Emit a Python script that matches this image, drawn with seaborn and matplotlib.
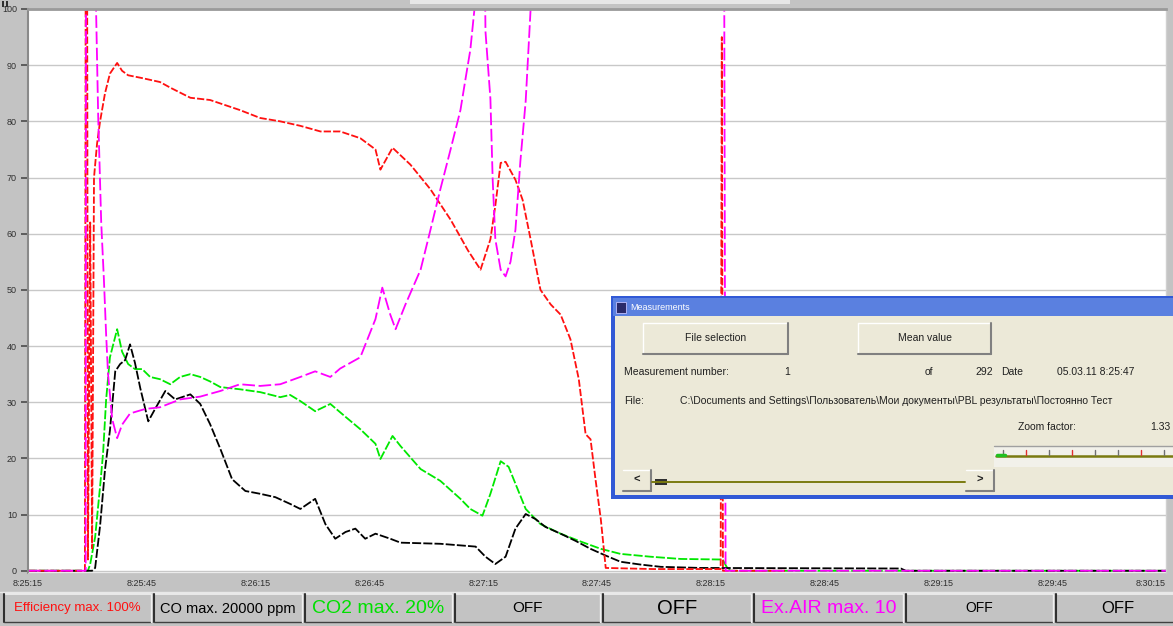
import matplotlib
matplotlib.use("Agg")
import numpy as np
import pandas as pd
import matplotlib.pyplot as plt
import seaborn as sns
from matplotlib.patches import Rectangle
from matplotlib.lines import Line2D

# ---- data: seconds from the left edge of the chart, % of channel max ----
eff_t = [0, 15.0, 15.2, 15.6, 15.8, 16.4, 16.9, 17.4, 18.2, 19.0, 20.3, 21.6, 23.5, 24.8, 26.4,
         30.1, 34.8, 37.5, 42.8, 45.4, 48.0, 55.9, 61.2, 66.5, 71.8, 77.1, 82.3, 87.6, 91.6, 92.9,
         96.1, 100.8, 106.1, 111.4, 113.5, 116.0, 119.3, 121.9, 123.2, 124.6, 125.9, 128.5, 130.4,
         132.5, 135.1, 137.8, 140.4, 143.0, 145.2, 147.0, 148.3, 149.6, 151.0, 152.3, 165.0,
         182.6, 182.9, 183.2, 200.0]
eff_v = [0, 0, 105, 105, 2, 62, 4, 70, 76, 80, 85, 88.5, 90.4, 89, 88.2,
         87.7, 87, 86, 84.2, 84, 83.8, 82, 80.6, 80, 79.2, 78.2, 78.2, 77, 75, 71.4,
         75.3, 72.3, 67.9, 62.5, 60, 57, 53.6, 59, 65, 72.6, 72.8, 69.6, 66,
         59, 50, 47.4, 45.6, 41.2, 34.1, 24.3, 23.4, 16.3, 9.2, 0.5, 0.3,
         0.3, 95, 0, 0]

co_t = [0, 16.9, 17.7, 19.0, 20.3, 21.6, 23.0, 24.3, 25.6, 26.9, 28.2, 29.6, 31.7, 33.5, 36.2,
        38.8, 42.8, 45.4, 48.0, 50.7, 53.8, 57.3, 61.2, 65.2, 69.1, 71.8, 75.7, 78.4, 81.0, 83.7,
        86.3, 88.9, 91.6, 95.5, 98.2, 108.7, 118.0, 120.6, 123.2, 125.9, 128.5, 131.2, 133.8,
        136.4, 140.4, 144.4, 148.3, 152.3, 156.2, 161.5, 166.8, 177.3, 230.1, 231.4, 300]
co_v = [0, 0, 0.5, 8, 18, 25, 35.5, 36.8, 37.5, 40.3, 37, 32.5, 26.6, 28.8, 32,
        30.5, 31.4, 29.7, 26.1, 21.7, 16.3, 14.2, 13.7, 13.1, 11.9, 11, 12.8, 8.3, 5.7, 6.9,
        7.5, 5.7, 6.6, 5.7, 5, 4.8, 4.3, 2.5, 1.2, 2.5, 7.5, 10.1, 9.2,
        7.8, 6.6, 5.3, 3.9, 2.7, 1.6, 1.1, 0.7, 0.5, 0.4, 0, 0]

co2_t = [0, 15.8, 16.4, 17.7, 19.0, 19.8, 20.6, 21.6, 23.5, 24.8, 26.4, 28.2, 30.1, 32.2, 34.8,
         37.5, 40.1, 42.8, 45.4, 48.0, 50.7, 55.9, 61.2, 66.5, 69.1, 71.8, 75.7, 79.7, 83.7, 87.6,
         91.6, 92.9, 96.1, 98.2, 103.5, 108.7, 114.0, 116.6, 119.8, 121.9, 124.6, 126.7, 128.5,
         131.2, 135.1, 140.4, 145.7, 151.0, 156.2, 164.1, 172.1, 183.1, 184.5, 185.3, 300]
co2_v = [0, 0, 1.2, 6, 15, 21, 30.5, 38, 43, 39, 36.8, 35.9, 35.9, 34.5, 34.1,
         33.2, 34.5, 35, 34.5, 33.7, 32.7, 32.3, 31.8, 30.9, 31.3, 30.2, 28.4, 29.7, 27.4, 25.2,
         22.6, 19.9, 24, 22.2, 18.1, 16, 12.8, 11, 9.8, 13.7, 19.5, 18.5, 15.5,
         11, 8.3, 6.6, 5.2, 3.9, 3, 2.5, 2.1, 2, 0.3, 0, 0]

air_t = [0, 15.2, 15.3, 17.5, 18.5, 19.3, 20.0, 20.6, 21.1, 22.2, 23.5, 24.8, 26.9, 30.9, 34.8,
         40.1, 45.4, 50.7, 55.9, 61.2, 66.5, 71.8, 75.7, 79.7, 82.3, 87.6, 91.6, 93.4, 95.5, 96.9,
         99.5, 103.5, 106.1, 108.7, 111.4, 114.0, 115.3, 116.6, 118.0, 119.3, 120.3, 120.6, 121.9,
         122.5, 123.2, 124.6, 125.9, 127.2, 128.5, 129.8, 131.2, 132.5, 133.0, 183.5, 183.9, 300]
air_v = [0, 0, 115, 115, 81, 62, 52, 42, 35, 27, 23.6, 26, 28, 28.8, 29.1,
         30.5, 31, 32, 33.2, 32.9, 33.2, 34.5, 35.5, 34.5, 36, 38, 44.8, 50.4, 45.6, 43,
         47.4, 53.6, 60.7, 67.9, 75, 82, 87.4, 92.7, 102, 115, 115, 96, 84,
         69.6, 59, 53.6, 52.4, 55, 60.7, 72.9, 83.6, 100, 115, 115, 0, 0]

series_names = ["CO2", "CO", "Efficiency", "Ex.AIR"]
x_ticks = [0, 30, 60, 90, 120, 150, 180, 210, 240, 270, 300]
x_labels = ["8:25:15", "8:25:45", "8:26:15", "8:26:45", "8:27:15", "8:27:45",
            "8:28:15", "8:28:45", "8:29:15", "8:29:45", "8:30:15"]
y_ticks = [0, 10, 20, 30, 40, 50, 60, 70, 80, 90, 100]

panel_texts = ["Efficiency max. 100%", "CO max. 20000 ppm", "CO2 max. 20%", "OFF",
               "OFF", "Ex.AIR max. 10", "OFF", "OFF"]

df = pd.concat([
    pd.DataFrame({"t": co2_t, "v": co2_v, "series": "CO2"}),
    pd.DataFrame({"t": co_t, "v": co_v, "series": "CO"}),
    pd.DataFrame({"t": eff_t, "v": eff_v, "series": "Efficiency"}),
    pd.DataFrame({"t": air_t, "v": air_v, "series": "Ex.AIR"}),
], ignore_index=True)

palette = {"CO2": "#00e800", "CO": "#000000", "Efficiency": "#ff1010", "Ex.AIR": "#ff00ff"}
dashes = {"CO2": (5, 1.2), "CO": (5, 1.2), "Efficiency": (4, 1.2), "Ex.AIR": (7, 2)}

# ---- figure ----
sns.set_theme(style="white")
plt.rcParams["font.family"] = ["Liberation Sans", "DejaVu Sans"]

W, H = 1173, 626
fig = plt.figure(figsize=(W / 100, H / 100), dpi=100)
fig.patch.set_facecolor("#c3c3c3")


def box(x0, y0, x1, y1):
    return [x0 / W, 1 - y1 / H, (x1 - x0) / W, (y1 - y0) / H]


def rect(x0, y0, x1, y1, **kw):
    kw.setdefault("zorder", 5)
    fig.add_artist(Rectangle((x0 / W, 1 - y1 / H), (x1 - x0) / W, (y1 - y0) / H,
                             transform=fig.transFigure, **kw))


def line(xs, ys, **kw):
    kw.setdefault("zorder", 6)
    fig.add_artist(Line2D([x / W for x in xs], [1 - y / H for y in ys],
                          transform=fig.transFigure, **kw))


def txt(x, y, s, **kw):
    kw.setdefault("zorder", 7)
    fig.text(x / W, 1 - y / H, s, **kw)


ax = fig.add_axes(box(28, 9, 1166, 573))
ax.set_facecolor("white")

sns.lineplot(data=df, x="t", y="v", hue="series", style="series", hue_order=series_names,
             style_order=series_names, palette=palette, dashes=dashes, estimator=None,
             sort=False, legend=False, linewidth=1.3, ax=ax)

ax.set_xlim(0, 300)
ax.set_ylim(-0.4, 100)
ax.set_xlabel("")
ax.set_ylabel("")
ax.set_xticks(x_ticks)
ax.set_xticklabels(x_labels, fontsize=6.5, color="#303030")
ax.get_xticklabels()[-1].set_ha("right")
ax.set_xticks([0, 30, 90, 150, 210, 270, 300], minor=True)
ax.set_yticks(y_ticks)
ax.set_yticklabels([str(v) for v in y_ticks], fontsize=6.5, color="#303030")
ax.tick_params(axis="x", which="major", length=0, pad=4)
ax.tick_params(axis="x", which="minor", length=5, color="#505050", bottom=True)
ax.tick_params(axis="y", length=5, color="#505050", left=True, pad=3)
ax.grid(axis="y", which="major", color="#c8c8c8", linewidth=1)
ax.grid(axis="x", which="minor", color="#c8c8c8", linewidth=1)
ax.grid(axis="x", which="major", visible=False)
ax.set_axisbelow(True)
for side, col, lw in [("left", "#8a8a8a", 1.5), ("top", "#9a9a9a", 2),
                      ("right", "#d0d0d0", 1), ("bottom", "#c8c8c8", 1)]:
    ax.spines[side].set_color(col)
    ax.spines[side].set_linewidth(lw)

# top strip and window icon
rect(410, 0, 790, 4, facecolor="#e6e6e6", edgecolor="none")
rect(2, 1, 4, 7, facecolor="#303030", edgecolor="none")
rect(6, 1, 8, 7, facecolor="#303030", edgecolor="none")

# ---- status bar ----
line([0, W], [592, 592], color="#e8e8e8", linewidth=1)
edges = [(4, 151), (154, 302), (305, 452), (455, 600), (603, 751), (754, 903), (906, 1053), (1056, 1180)]
colors = ["#ff1010", "#000000", "#00e000", "#000000", "#000000", "#ff00ff", "#000000", "#000000"]
sizes = [9.5, 10.5, 14, 11, 14.5, 14, 10, 12]
for (x0, x1), s, c, fs in zip(edges, panel_texts, colors, sizes):
    rect(x0, 594, x1, 622, facecolor="#c3c3c3", edgecolor="none")
    line([x0, x1], [594, 594], color="#f0f0f0", linewidth=1.2)
    line([x0, x0], [594, 622], color="#303030", linewidth=1.5)
    line([x0, x1], [622, 622], color="#404040", linewidth=1)
    line([x1, x1], [594, 622], color="#f0f0f0", linewidth=1)
    txt((x0 + x1) / 2, 608.5, s, color=c, fontsize=fs, ha="center", va="center")

# ---- Measurements dialog ----
rect(611, 296, 1180, 499, facecolor="#3159d6", edgecolor="none")
rect(613, 298, 1180, 316, facecolor="#5a80e0", edgecolor="none")
rect(616, 302, 626, 313, facecolor="#2a2a6a", edgecolor="#c0c0ff", linewidth=0.6)
txt(630, 308, "Measurements", color="white", fontsize=6.5, va="center")
rect(615, 316, 1180, 495, facecolor="#ece9d8", edgecolor="none")

for x0, x1, s in [(643, 788, "File selection"), (858, 991, "Mean value")]:
    rect(x0, 323, x1, 354, facecolor="#ece9d8", edgecolor="none")
    line([x0, x1], [323, 323], color="#ffffff", linewidth=1)
    line([x0, x0], [323, 354], color="#ffffff", linewidth=1)
    line([x0, x1], [354, 354], color="#808080", linewidth=1.5)
    line([x1, x1], [323, 354], color="#808080", linewidth=1.5)
    txt((x0 + x1) / 2, 338, s, fontsize=7.5, color="#202020", ha="center", va="center")

dlg = dict(fontsize=7.5, color="#202020", va="center")
txt(624, 372, "Measurement number:", **dlg)
txt(784, 372, "1", **dlg)
txt(925, 372, "of", **dlg)
txt(993, 372, "292", ha="right", **dlg)
txt(1001, 372, "Date", **dlg)
txt(1057, 372, "05.03.11 8:25:47", **dlg)
txt(624, 401, "File:", **dlg)
txt(680, 401, "C:\\Documents and Settings\\Пользователь\\Мои документы\\PBL результаты\\Постоянно Тест",
    **dlg)
txt(1018, 427, "Zoom factor:", **dlg)
txt(1150, 427, "1.33", **dlg)

# zoom slider
rect(994, 446, 1180, 467, facecolor="#f2f1ea", edgecolor="none")
line([994, 1180], [446, 446], color="#a0a0a0", linewidth=1)
line([996, 1180], [456, 456], color="#7a7a10", linewidth=1.8)
for xt, tc in [(1003, "#707070"), (1026, "#e03030"), (1049, "#707070"), (1072, "#e03030"),
               (1095, "#707070"), (1118, "#707070"), (1141, "#e03030"), (1164, "#707070")]:
    line([xt, xt], [450, 455], color=tc, linewidth=1)
line([997, 1005], [455, 455], color="#20c020", linewidth=2.5)

# scroll bar
for x0, x1, s in [(623, 651, "<"), (966, 994, ">")]:
    rect(x0, 470, x1, 491, facecolor="#ece9d8", edgecolor="none")
    line([x0, x1], [470, 470], color="#ffffff", linewidth=1)
    line([x0, x1], [491, 491], color="#808080", linewidth=1.5)
    line([x1, x1], [470, 491], color="#808080", linewidth=1.5)
    txt((x0 + x1) / 2, 480, s, fontsize=8, color="#202020", ha="center", va="center",
        fontweight="bold")
line([652, 965], [482, 482], color="#7a7a10", linewidth=1.4)
rect(655, 479, 667, 485, facecolor="#303030", edgecolor="none")

fig.savefig("out.png", dpi=100, facecolor=fig.get_facecolor())
